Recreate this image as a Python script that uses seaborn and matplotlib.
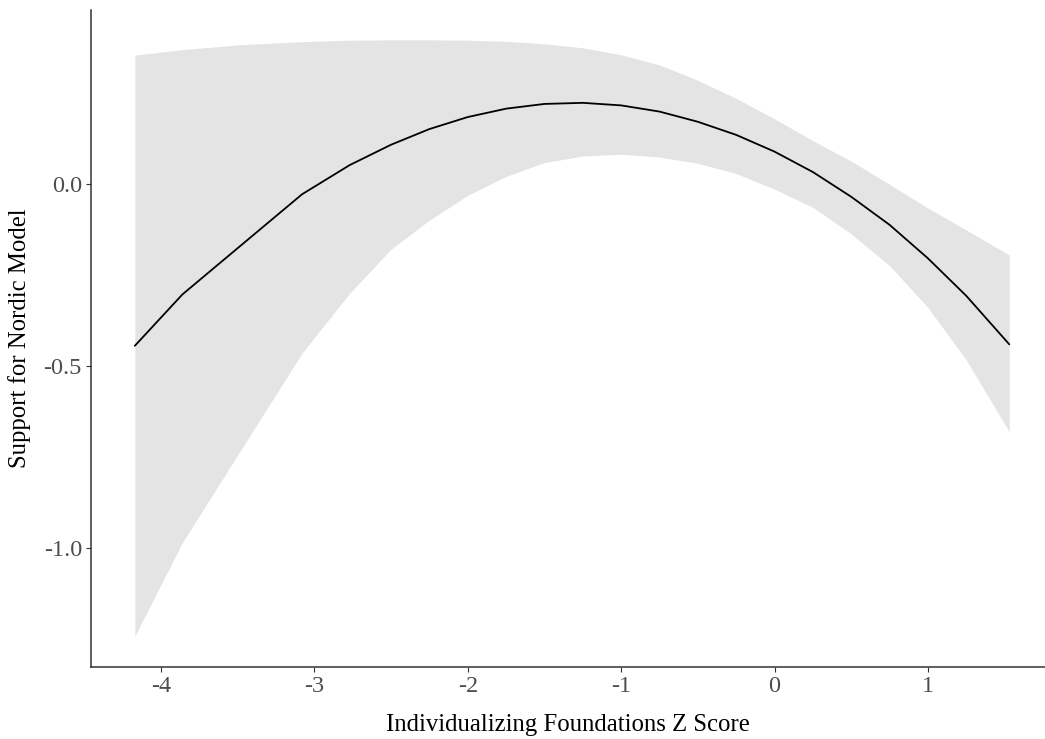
import matplotlib

matplotlib.use("Agg")
import matplotlib.pyplot as plt
import pandas as pd
import seaborn as sns

# Predicted support and 95% band
z_score = [-4.17, -3.86, -3.5, -3.08, -2.77, -2.5, -2.25, -2.0, -1.75, -1.5, -1.25,
           -1.0, -0.75, -0.5, -0.25, 0.0, 0.25, 0.5, 0.75, 1.0, 1.25, 1.53]
support = [-0.445, -0.304, -0.177, -0.029, 0.051, 0.107, 0.150, 0.183, 0.206, 0.219, 0.222,
           0.215, 0.198, 0.170, 0.134, 0.088, 0.032, -0.036, -0.113, -0.205, -0.308, -0.441]
upper = [0.353, 0.368, 0.381, 0.390, 0.394, 0.395, 0.395, 0.394, 0.391, 0.384, 0.373,
         0.354, 0.326, 0.284, 0.234, 0.178, 0.118, 0.062, -0.002, -0.067, -0.127, -0.196]
lower = [-1.242, -0.985, -0.745, -0.465, -0.301, -0.180, -0.100, -0.032, 0.020, 0.058, 0.076,
         0.081, 0.073, 0.056, 0.028, -0.015, -0.065, -0.138, -0.225, -0.340, -0.484, -0.681]

x_ticks = [-4, -3, -2, -1, 0, 1]
y_ticks = [-1.0, -0.5, 0.0]
y_tick_labels = ["-1.0", "-0.5", "0.0"]

df = pd.DataFrame({"z": z_score, "fit": support, "hi": upper, "lo": lower})

sns.set_theme(style="ticks")
plt.rcParams["font.family"] = ["Liberation Serif", "DejaVu Serif"]
plt.rcParams["axes.unicode_minus"] = False

fig = plt.figure(figsize=(10.45, 7.39), dpi=100)
ax = fig.add_axes([91 / 1045, 1 - 667 / 739, 1 - 91 / 1045, (667 - 9.6) / 739])

# confidence ribbon + fitted line
ax.fill_between(df["z"], df["lo"], df["hi"], color="#e4e4e4", linewidth=0)
sns.lineplot(data=df, x="z", y="fit", color="black", linewidth=1.3, ax=ax)

ax.set_xlim(-4.456, 1.763)
ax.set_ylim(-1.327, 0.478)
ax.set_xticks(x_ticks)
ax.set_xticklabels([str(t) for t in x_ticks])
ax.set_yticks(y_ticks)
ax.set_yticklabels(y_tick_labels)

ax.set_xlabel("Individualizing Foundations Z Score", fontsize=17.8, color="black", labelpad=12)
ax.set_ylabel("Support for Nordic Model", fontsize=17.8, color="black", labelpad=9)
ax.tick_params(axis="both", labelsize=17.5, labelcolor="#4d4d4d", color="#333333",
               length=3.5, width=0.8, pad=3)

sns.despine(ax=ax)
for side in ["left", "bottom"]:
    ax.spines[side].set_color("#333333")
    ax.spines[side].set_linewidth(1.1)

fig.savefig("out.png", dpi=100, facecolor="white")
